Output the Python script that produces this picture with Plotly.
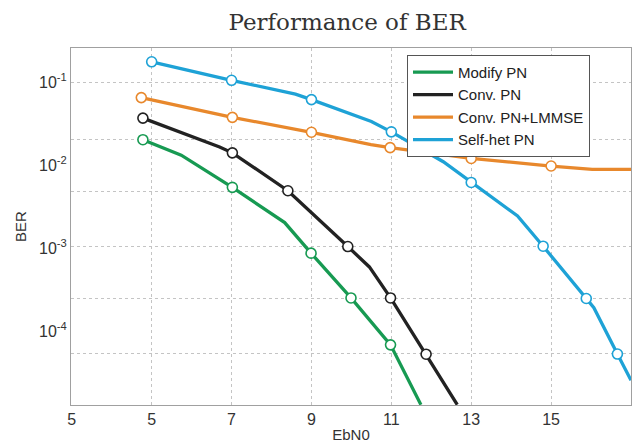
import plotly.graph_objects as go

# ---- data ----
tick_x = [3, 5, 7, 9, 11, 13, 15, 17]
tick_x_text = ["5", "5", "7", "9", "11", "13", "15", "17"]
tick_y = [1e-1, 1e-2, 1e-3, 1e-4]
tick_y_text = ["10<sup>-1</sup>", "10<sup>-2</sup>", "10<sup>-3</sup>", "10<sup>-4</sup>"]
grid_y = [1e-1, 0.0204, 0.00478, 0.001057, 0.000247, 5.32e-5]

modify_x = [4.78, 5.74, 7.02, 8.33, 8.99, 9.99, 10.98, 11.74]
modify_y = [0.0204, 0.0133, 0.00543, 0.00204, 0.000871, 0.000251, 6.81e-5, 1.29e-5]
modify_mk = [0, 2, 4, 5, 6]

conv_x = [4.78, 6.7, 7.02, 8.41, 9.91, 10.45, 10.98, 11.87, 12.65]
conv_y = [0.0372, 0.01667, 0.01416, 0.00494, 0.001047, 0.000594, 0.000251, 5.25e-5, 1.29e-5]
conv_mk = [0, 2, 3, 4, 6, 7]

lmmse_x = [4.74, 7.02, 9.0, 10.49, 10.97, 13.0, 15.0, 16.03, 17.0]
lmmse_y = [0.0658, 0.0380, 0.0251, 0.01778, 0.01637, 0.01211, 0.00982, 0.00895, 0.00895]
lmmse_mk = [0, 1, 2, 4, 5, 6]

selfhet_x = [5.0, 7.0, 8.6, 9.0, 10.5, 11.0, 12.3, 13.0, 14.16, 14.8, 15.88, 16.07, 16.66, 17.0]
selfhet_y = [0.178, 0.1064, 0.0724, 0.0622, 0.0339, 0.0254, 0.01107, 0.00622, 0.00245,
             0.001057, 0.000247, 0.000191, 5.27e-5, 2.54e-5]
selfhet_mk = [0, 1, 3, 5, 7, 9, 10, 12]

series = [
    ("Modify PN", modify_x, modify_y, modify_mk, "#179a52"),
    ("Conv. PN", conv_x, conv_y, conv_mk, "#222222"),
    ("Conv. PN+LMMSE", lmmse_x, lmmse_y, lmmse_mk, "#e8882c"),
    ("Self-het PN", selfhet_x, selfhet_y, selfhet_mk, "#1ea2d6"),
]

fig = go.Figure()
for name, xs, ys, mk, col in series:
    fig.add_trace(go.Scatter(x=xs, y=ys, mode="lines", name=name,
                             line=dict(color=col, width=3.3)))
for name, xs, ys, mk, col in series:
    fig.add_trace(go.Scatter(x=[xs[i] for i in mk], y=[ys[i] for i in mk],
                             mode="markers", showlegend=False, yaxis="y2",
                             marker=dict(symbol="circle", size=10, color="white",
                                         line=dict(color=col, width=1.6))))

yr = [-4.893, -0.583]
font = "Liberation Sans, Arial, sans-serif"
fig.update_layout(
    width=637, height=446,
    margin=dict(l=71, r=5, t=48, b=36),
    plot_bgcolor="white", paper_bgcolor="white",
    title=dict(text="Performance of BER", x=0.545, xref="container", xanchor="center",
               y=1 - 22 / 446, yref="container", yanchor="middle",
               font=dict(family="DejaVu Serif", size=23, color="#333333")),
    xaxis=dict(range=[2.98, 17], tickvals=tick_x, ticktext=tick_x_text,
               showgrid=True, gridcolor="#c4c4c4", griddash="dot", gridwidth=1,
               showline=True, linecolor="#a0a0a0", linewidth=1, mirror=True,
               zeroline=False, ticks="",
               tickfont=dict(family=font, size=16, color="#333333"),
               title=dict(text="EbN0", standoff=2,
                          font=dict(family=font, size=15, color="#333333"))),
    yaxis=dict(type="log", range=yr, tickvals=tick_y, ticktext=tick_y_text,
               showgrid=False, showline=True, linecolor="#a0a0a0", linewidth=1,
               mirror=True, zeroline=False, ticks="",
               tickfont=dict(family=font, size=16, color="#333333"),
               title=dict(text="BER", standoff=8,
                          font=dict(family=font, size=15, color="#333333"))),
    yaxis2=dict(type="log", range=yr, overlaying="y", side="left",
                tickvals=grid_y, showticklabels=False, showgrid=True,
                gridcolor="#c4c4c4", griddash="dot", gridwidth=1,
                showline=False, zeroline=False, ticks=""),
    legend=dict(x=0.6, y=0.981, xanchor="left", yanchor="top",
                bgcolor="white", bordercolor="#555555", borderwidth=1,
                font=dict(family=font, size=15, color="#222222"),
                tracegroupgap=0, itemwidth=40),
)

fig.write_html("out.html")
